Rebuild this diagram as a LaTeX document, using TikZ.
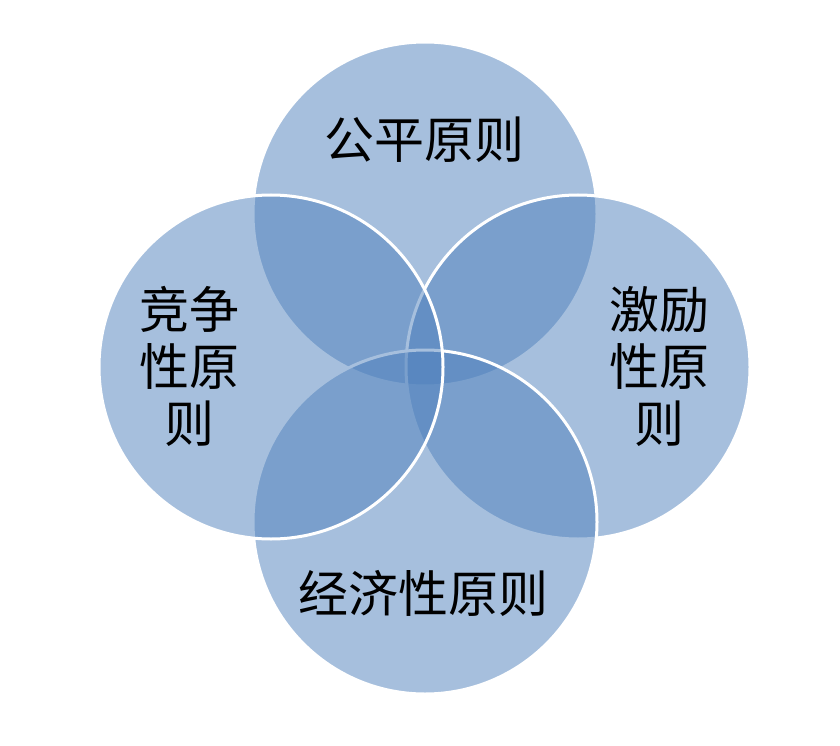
\documentclass[tikz,border=0pt]{standalone}
\usepackage{fontspec}
\newfontfamily\cjk{Noto Sans CJK SC}
\definecolor{vennblue}{RGB}{79,129,189}
\begin{document}
\begin{tikzpicture}[x=1pt,y=-1pt,
  venn/.style={circle,minimum size=344pt,inner sep=0pt,draw=white,line width=3pt,fill=vennblue,fill opacity=0.5},
  lbl/.style={font=\cjk\fontsize{50}{57}\selectfont,text=black,align=center,inner sep=0pt}]
\useasboundingbox (0,0) rectangle (840,746);
\fill[white] (0,0) rectangle (840,746);
\node[venn] (ctop) at (425,214) {};
\node[venn] (cright) at (578,367) {};
\node[venn] (cbottom) at (425,522) {};
\node[venn] (cleft) at (271,367) {};
\node[lbl] (ttop) at (424,140) {公平原则};
\node[lbl] (tleft) at (189,366) {竞争\\性原\\则};
\node[lbl] (tright) at (659,366) {激励\\性原\\则};
\node[lbl] (tbottom) at (423,593) {经济性原则};
\end{tikzpicture}
\end{document}
